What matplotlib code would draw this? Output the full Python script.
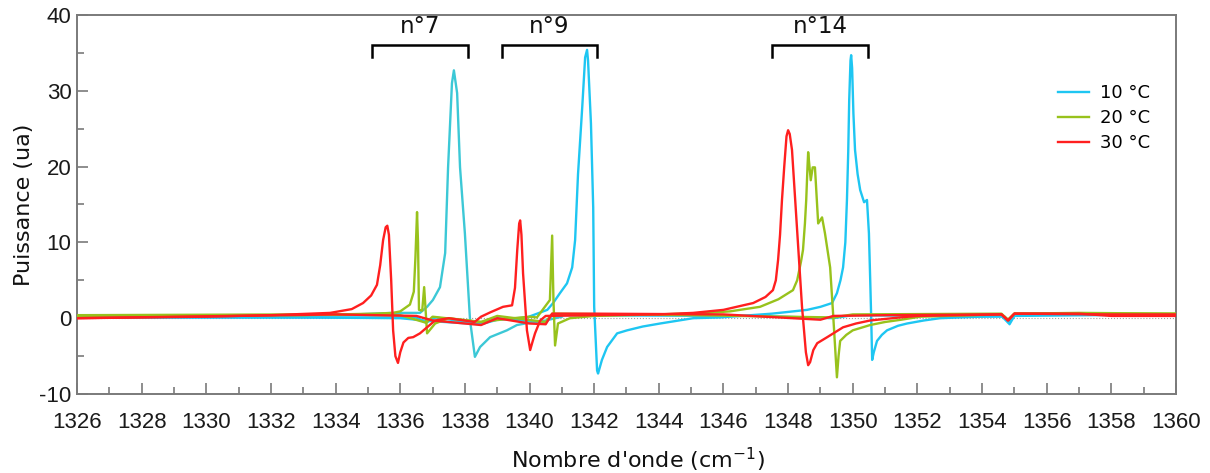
import matplotlib
matplotlib.use("Agg")
import matplotlib.pyplot as plt
from matplotlib import font_manager
from matplotlib.ticker import MultipleLocator

plt.rcParams["axes.unicode_minus"] = False

# ---------------- data ----------------
labels = ["10 °C", "20 °C", "30 °C"]
colors = ["#1ec6f2", "#98c21c", "#ff1f1f"]

# 10 °C : trace around n°7
c10_a_x = [1326, 1332, 1334, 1335.78, 1336.61, 1336.83, 1337.01, 1337.23, 1337.39, 1337.48, 1337.60,
           1337.66, 1337.76, 1337.85, 1338.0, 1338.16, 1338.31, 1338.47, 1338.78, 1339.30, 1339.61,
           1340.0, 1340.5, 1341.0]
c10_a_y = [0.2, 0.3, 0.4, 0.7, 0.7, 1.5, 2.4, 4.1, 8.6, 19.9, 31.0,
           32.7, 29.7, 19.9, 11.2, -0.3, -5.1, -3.8, -2.5, -1.6, -0.9,
           -0.6, -0.3, 0.2]
# 10 °C : trace with n°9 and n°14
c10_b_x = [1326, 1333, 1336, 1337.0, 1338.5, 1339.0, 1339.92, 1340.55, 1340.73, 1340.94, 1341.16, 1341.32,
           1341.41, 1341.50, 1341.63, 1341.72, 1341.78, 1341.81, 1341.90, 1341.97, 1342.0, 1342.09, 1342.12,
           1342.24, 1342.40, 1342.71, 1343.02, 1343.5, 1344.04, 1345.06, 1345.89, 1347.5, 1348.59,
           1349.0, 1349.36, 1349.51, 1349.62, 1349.70, 1349.77, 1349.82, 1349.86, 1349.89, 1349.93, 1349.95,
           1349.98, 1350.02, 1350.07, 1350.15, 1350.23, 1350.35, 1350.44, 1350.50, 1350.54, 1350.57,
           1350.60, 1350.65, 1350.75, 1350.9, 1351.06, 1351.4, 1351.68, 1352.2, 1352.70, 1353.32,
           1354.6, 1354.81, 1355.0, 1356, 1358, 1360]
c10_b_y = [0.1, 0.1, 0.0, -0.4, -0.8, -0.2, 0.1, 1.1, 2.0, 3.3, 4.6, 6.7,
           10.3, 19.0, 27.8, 34.4, 35.4, 34.0, 25.7, 14.6, 1.5, -6.9, -7.3,
           -5.5, -3.8, -2.0, -1.6, -1.1, -0.7, 0.0, 0.1, 0.6, 1.1,
           1.5, 2.0, 3.3, 5.0, 6.7, 10.0, 15.6, 22.0, 28.8, 34.0, 34.7,
           33.0, 27.0, 22.2, 19.0, 16.9, 15.3, 15.6, 11.2, 5.0, 0.1,
           -5.5, -4.5, -3.0, -2.2, -1.6, -1.0, -0.7, -0.3, 0.0, 0.1,
           0.3, -0.6, 0.4, 0.6, 0.5, 0.4]
# 10 °C : flat trace
c10_c_x = [1326, 1336.5, 1336.8, 1337.1, 1338.5, 1339.0, 1340.5, 1340.7, 1347, 1349.4, 1350, 1354.7, 1354.85, 1355, 1360]
c10_c_y = [0.1, 0.1, -0.6, 0.1, -0.8, 0.0, -0.6, 0.4, 0.3, 0.0, 0.4, 0.2, -0.8, 0.3, 0.5]

# 20 °C : trace with peaks
c20_a_x = [1326, 1330, 1333, 1335.2, 1335.78, 1336.0, 1336.3, 1336.42, 1336.47, 1336.52, 1336.55, 1336.58,
           1336.68, 1336.74, 1336.83, 1337.08, 1337.5, 1338.5, 1339.5, 1340.0, 1340.23, 1340.63, 1340.70,
           1340.74, 1340.79, 1340.88, 1341.25, 1342, 1344, 1345.5, 1346.2, 1347.13, 1347.7, 1348.15, 1348.28,
           1348.40, 1348.46, 1348.52, 1348.56, 1348.60, 1348.62, 1348.70, 1348.76, 1348.83, 1348.93,
           1349.05, 1349.14, 1349.30, 1349.39, 1349.51, 1349.56, 1349.61, 1349.8, 1350.0, 1350.54,
           1351.0, 1351.5, 1352.08, 1354.6, 1354.81, 1355, 1357, 1360]
c20_a_y = [0.3, 0.4, 0.4, 0.6, 0.7, 0.9, 1.8, 3.5, 8.0, 14.0, 10.0, 1.1,
           1.0, 4.1, -2.0, -0.7, 0.0, -0.5, 0.0, 0.2, 0.1, 2.4, 10.9,
           2.4, -3.6, -0.7, 0.0, 0.3, 0.5, 0.7, 0.9, 1.5, 2.5, 3.7, 5.0,
           7.5, 9.0, 12.5, 15.6, 20.0, 21.9, 18.2, 19.9, 19.9, 12.5,
           13.3, 11.2, 6.7, 0.7, -7.8, -5.0, -3.0, -2.2, -1.6, -0.9,
           -0.5, -0.2, 0.2, 0.5, -0.2, 0.6, 0.7, 0.6]
# 20 °C : flat trace
c20_b_x = [1326, 1333, 1336, 1336.8, 1337.0, 1338.5, 1339, 1340.5, 1340.7, 1345, 1349.4, 1350, 1354.6, 1354.8, 1355, 1360]
c20_b_y = [0.4, 0.5, 0.4, -0.6, 0.2, -0.5, 0.3, -0.5, 0.6, 0.4, 0.1, 0.5, 0.6, -0.2, 0.6, 0.6]

# 30 °C : trace with peaks
c30_a_x = [1326, 1330, 1332, 1333.83, 1334.5, 1334.85, 1335.1, 1335.28, 1335.38, 1335.47, 1335.55, 1335.6,
           1335.65, 1335.72, 1335.78, 1335.85, 1335.93, 1336.0, 1336.1, 1336.25, 1336.40, 1336.61, 1336.83,
           1337.08, 1337.5, 1338.3, 1338.5, 1338.8, 1339.18, 1339.46, 1339.55, 1339.62, 1339.68, 1339.71,
           1339.75, 1339.80, 1339.92, 1340.02, 1340.1, 1340.17, 1340.33, 1340.5, 1342, 1344, 1345.06, 1346.0,
           1346.61, 1346.92, 1347.3, 1347.53, 1347.62, 1347.69, 1347.75, 1347.81, 1347.88, 1347.95, 1348.0,
           1348.05, 1348.12, 1348.43, 1348.55, 1348.62, 1348.68, 1348.78, 1348.9, 1349.21, 1349.7, 1350.1,
           1350.54, 1351.46, 1352, 1354.6, 1354.81, 1355, 1357, 1358, 1360]
c30_a_y = [0.0, 0.2, 0.4, 0.7, 1.2, 2.0, 3.0, 4.4, 7.0, 10.3, 12.0, 12.2,
           11.0, 5.0, -1.6, -5.0, -5.9, -4.5, -3.2, -2.6, -2.5, -2.0, -1.2,
           -0.3, 0.0, -0.5, 0.2, 0.8, 1.5, 1.7, 4.0, 9.0, 12.5, 12.9,
           11.0, 5.9, -1.6, -4.2, -3.0, -2.0, -0.3, 0.3, 0.4, 0.5, 0.7, 1.1,
           1.7, 2.0, 2.8, 3.7, 5.0, 7.7, 11.0, 15.6, 20.0, 24.0, 24.8,
           24.3, 22.2, 1.5, -4.5, -6.2, -5.8, -4.2, -3.3, -2.5, -1.2, -0.7,
           -0.3, 0.1, 0.3, 0.5, -0.3, 0.6, 0.6, 0.3, 0.3]
# 30 °C : flat trace
c30_b_x = [1326, 1334, 1336.5, 1337.0, 1338.5, 1339.0, 1340.0, 1340.5, 1340.7, 1342, 1346, 1349, 1349.4,
           1351, 1354.6, 1354.8, 1355, 1358, 1360]
c30_b_y = [0.0, 0.5, 0.3, -0.3, -0.9, 0.0, -0.7, -0.8, 0.6, 0.6, 0.5, -0.2, 0.3,
           0.4, 0.5, -0.3, 0.6, 0.5, 0.5]

groups = [("n°7", 1335.13, 1338.10), ("n°9", 1339.15, 1342.09), ("n°14", 1347.50, 1350.47)]

x_ticks = list(range(1326, 1361, 2))
y_ticks = [-10, 0, 10, 20, 30, 40]

# ---------------- fonts ----------------
avail = {f.name for f in font_manager.fontManager.ttflist}
if "Liberation Sans Narrow" in avail:
    tick_font, tick_size = "Liberation Sans Narrow", 17
else:
    tick_font, tick_size = "Liberation Sans", 16
main_font = "DejaVu Sans"

# ---------------- figure ----------------
fig = plt.figure(figsize=(12.1, 4.73), dpi=100)
ax = fig.add_axes([77 / 1210, 1 - 394 / 473, (1176 - 77) / 1210, (394 - 15) / 473])

ax.axhline(0, color="#a0a0a0", lw=0.8, ls=":", zorder=1)

lw = 1.7
series = [
    (0, [(c10_c_x, c10_c_y), (c10_a_x, c10_a_y), (c10_b_x, c10_b_y)]),
    (1, [(c20_b_x, c20_b_y), (c20_a_x, c20_a_y)]),
    (2, [(c30_b_x, c30_b_y), (c30_a_x, c30_a_y)]),
]
for i, traces in series:
    for k, (xs, ys) in enumerate(traces):
        col = colors[i]
        if i == 0 and xs is c10_a_x:
            col = "#3cc8d6"
        ax.plot(xs, ys, color=col, lw=lw, zorder=2 + i,
                label=labels[i] if k == len(traces) - 1 else None)

# brackets
for name, x0, x1 in groups:
    ax.plot([x0, x0, x1, x1], [34.5, 36.1, 36.1, 34.5], color="black", lw=1.8,
            solid_joinstyle="miter", clip_on=False, zorder=6)
    ax.text((x0 + x1) / 2, 36.9, name, ha="center", va="bottom", fontsize=16.5,
            family=main_font, color="#111111")

ax.set_xlim(1326, 1360)
ax.set_ylim(-10, 40)
ax.set_xticks(x_ticks)
ax.set_yticks(y_ticks)
ax.xaxis.set_minor_locator(MultipleLocator(1))
ax.yaxis.set_minor_locator(MultipleLocator(5))

for sp in ax.spines.values():
    sp.set_color("#7a7a7a")
    sp.set_linewidth(1.4)

ax.tick_params(axis="both", which="major", direction="in", length=8, width=1.2, color="#7a7a7a",
               labelcolor="#1a1a1a", labelsize=tick_size)
ax.tick_params(axis="both", which="minor", direction="in", length=5, width=1.2, color="#7a7a7a")
ax.tick_params(axis="x", which="major", pad=13)
ax.tick_params(axis="y", which="major", pad=4)
for lab in ax.get_xticklabels() + ax.get_yticklabels():
    lab.set_family(tick_font)

ax.set_ylabel("Puissance (ua)", fontsize=16, family=main_font, color="#111111", labelpad=4)
ax.set_xlabel("Nombre d'onde (cm$^{-1}$)", fontsize=16, family=main_font, color="#111111", labelpad=9)
ax.xaxis.label.set_x(0.51)

leg = ax.legend(loc="upper left", bbox_to_anchor=(0.893, 0.818), frameon=False,
                handlelength=1.7, handletextpad=0.6, labelspacing=0.4, borderpad=0, borderaxespad=0,
                prop={"family": main_font, "size": 13})

fig.savefig("out.png", dpi=100)
